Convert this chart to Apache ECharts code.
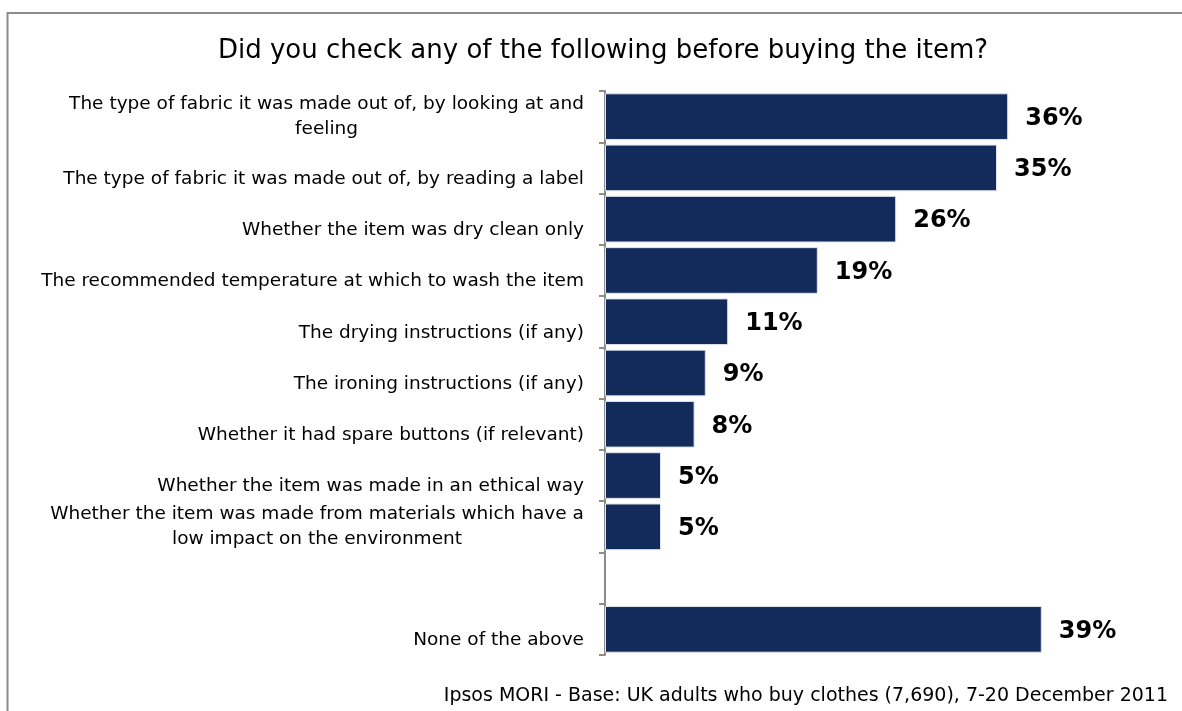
<!DOCTYPE html>
<html>
<head>
<meta charset="utf-8">
<style>
  html, body { margin: 0; padding: 0; background: #ffffff; }
  #chart { width: 1182px; height: 711px; }
</style>
<script src="https://cdn.jsdelivr.net/npm/echarts@6/dist/echarts.min.js"></script>
</head>
<body>
<div id="chart"></div>
<script>
// Survey items, top to bottom (blank row separates "None of the above")
const categories = [
  'The type of fabric it was made out of, by looking at and\nfeeling',
  'The type of fabric it was made out of, by reading a label',
  'Whether the item was dry clean only',
  'The recommended temperature at which to wash the item',
  'The drying instructions (if any)',
  'The ironing instructions (if any)',
  'Whether it had spare buttons (if relevant)',
  'Whether the item was made in an ethical way',
  'Whether the item was made from materials which have a\nlow impact on the environment',
  '',
  'None of the above'
];
// Share of respondents, percent
const values = [36, 35, 26, 19, 11, 9, 8, 5, 5, null, 39];

const titleText = 'Did you check any of the following before buying the item?';
const footerText = 'Ipsos MORI - Base: UK adults who buy clothes (7,690), 7-20 December 2011';

const FONT = '"DejaVu Sans", Verdana, sans-serif';
const LABEL_SIZE = 18.5;
const BAR_COLOR = '#132b5b';

// Multi-line labels: centre each line within the width of the longest line.
// Single-line labels sit a little below the row centre.
const measureCtx = document.createElement('canvas').getContext('2d');
measureCtx.font = LABEL_SIZE + 'px ' + FONT;
const rich = {
  s: { fontFamily: FONT, fontSize: LABEL_SIZE, color: '#000', padding: [22, 0, 0, 0] }
};
const labelMap = {};
categories.forEach((c, i) => {
  if (c === '') { labelMap[c] = ''; return; }
  if (c.indexOf('\n') < 0) { labelMap[c] = '{s|' + c + '}'; return; }
  const lines = c.split('\n');
  const w = Math.max(...lines.map(l => measureCtx.measureText(l).width));
  const key = 'm' + i;
  rich[key] = { width: Math.ceil(w), align: 'center', fontFamily: FONT, fontSize: LABEL_SIZE, color: '#000', lineHeight: 25 };
  labelMap[c] = lines.map(l => '{' + key + '|' + l + '}').join('\n');
});

const chart = echarts.init(document.getElementById('chart'), null, { renderer: 'canvas' });
chart.setOption({
  animation: false,
  backgroundColor: '#ffffff',
  graphic: [
    {
      type: 'rect',
      shape: { x: 7.5, y: 13, width: 1200, height: 720 },
      style: { fill: 'none', stroke: '#8c8c8c', lineWidth: 2 },
      silent: true
    },
    {
      type: 'text',
      x: 603, y: 51,
      style: { text: titleText, font: '26px ' + FONT, fill: '#000', textAlign: 'center', textVerticalAlign: 'middle' }
    },
    {
      type: 'text',
      x: 1168, y: 696,
      style: { text: footerText, font: '19px ' + FONT, fill: '#000', textAlign: 'right', textVerticalAlign: 'middle' }
    }
  ],
  grid: { left: 605, top: 91, width: 448, height: 564, containLabel: false },
  xAxis: {
    type: 'value', min: 0, max: 40,
    show: false
  },
  yAxis: {
    type: 'category',
    data: categories,
    inverse: true,
    axisLine: { show: true, lineStyle: { color: '#8c8c8c', width: 2 } },
    axisTick: { show: true, length: 6, lineStyle: { color: '#8c8c8c', width: 2 } },
    axisLabel: {
      margin: 21,
      fontFamily: FONT,
      fontSize: LABEL_SIZE,
      color: '#000',
      align: 'right',
      formatter: v => labelMap[v] !== undefined ? labelMap[v] : v,
      rich: rich
    },
    splitLine: { show: false }
  },
  series: [{
    type: 'bar',
    data: values,
    barCategoryGap: '9%',
    itemStyle: { color: BAR_COLOR, borderColor: '#dfe3ea', borderWidth: 1 },
    label: {
      show: true,
      position: 'right',
      distance: 17,
      offset: [0, 2],
      formatter: p => p.value + '%',
      fontFamily: FONT,
      fontWeight: 'bold',
      fontSize: 24,
      color: '#000'
    }
  }]
});
</script>
</body>
</html>
